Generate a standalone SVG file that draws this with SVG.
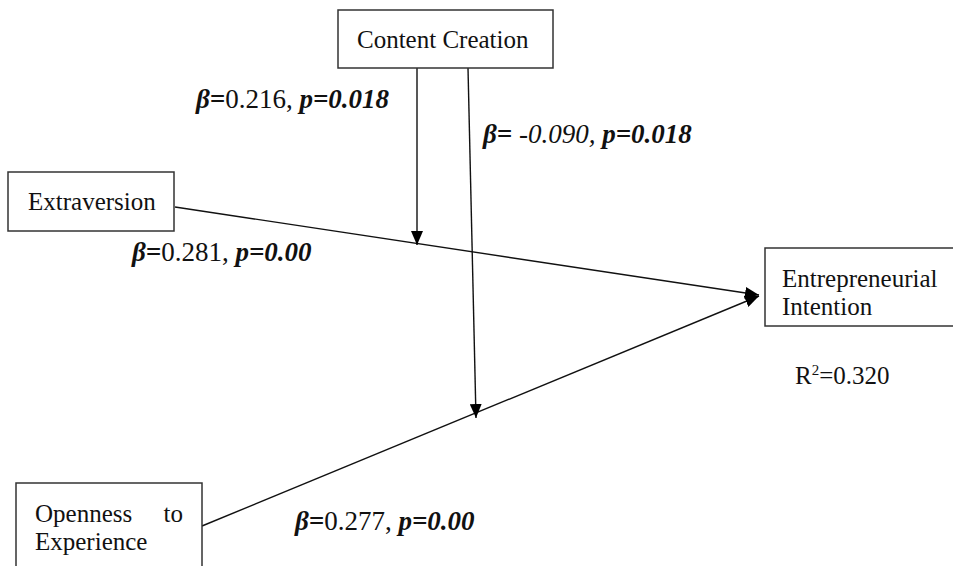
<svg xmlns="http://www.w3.org/2000/svg" width="953" height="566" viewBox="0 0 953 566">
<defs>
<marker id="ah" viewBox="0 0 14 12" refX="14" refY="6" markerWidth="14" markerHeight="12" markerUnits="userSpaceOnUse" orient="auto">
<path d="M0,0 L14,6 L0,12 Z" fill="#000"/>
</marker>
<style>
.box{fill:#fff;stroke:#333;stroke-width:1.5}
.t{font-family:"Liberation Serif","Times New Roman",serif;font-size:25px;fill:#111}
.lab{font-family:"Liberation Serif","Times New Roman",serif;font-size:27px;fill:#111}
.bi{font-weight:bold;font-style:italic}
.i{font-style:italic}
.c{stroke:#111;stroke-width:1.4;fill:none}
</style>
</defs>
<rect width="953" height="566" fill="#fff"/>
<g id="connectors">
<line class="c" x1="175" y1="207" x2="759" y2="295" marker-end="url(#ah)"/>
<line class="c" x1="202" y1="526" x2="759" y2="296" marker-end="url(#ah)"/>
<line class="c" x1="417" y1="68" x2="417" y2="245" marker-end="url(#ah)"/>
<line class="c" x1="468" y1="68" x2="476" y2="418" marker-end="url(#ah)"/>
</g>
<g id="content-creation">
<rect class="box" x="338" y="10" width="215" height="58"/>
<text class="t" x="357" y="48">Content Creation</text>
</g>
<g id="extraversion">
<rect class="box" x="8" y="172" width="166" height="59"/>
<text class="t" x="28" y="210">Extraversion</text>
</g>
<g id="entrepreneurial-intention">
<rect class="box" x="765" y="248" width="200" height="78"/>
<text class="t" x="782" y="287">Entrepreneurial</text>
<text class="t" x="782" y="315">Intention</text>
</g>
<g id="openness">
<rect class="box" x="16" y="483" width="186" height="100"/>
<text class="t" x="35" y="522">Openness</text>
<text class="t" x="183" y="522" text-anchor="end">to</text>
<text class="t" x="35" y="550">Experience</text>
</g>
<g id="labels">
<text class="lab" x="196" y="108"><tspan class="bi">β=</tspan>0.216, <tspan class="bi">p=0.018</tspan></text>
<text class="lab" x="483" y="143"><tspan class="bi">β=</tspan><tspan class="i"> -0.090, </tspan><tspan class="bi">p=0.018</tspan></text>
<text class="lab" x="132" y="261"><tspan class="bi">β=</tspan>0.281, <tspan class="bi">p=0.00</tspan></text>
<text class="lab" x="295" y="530"><tspan class="bi">β=</tspan>0.277, <tspan class="bi">p=0.00</tspan></text>
<text class="t" x="795" y="384">R<tspan font-size="15" dy="-9">2</tspan><tspan dy="9">=0.320</tspan></text>
</g>
</svg>
